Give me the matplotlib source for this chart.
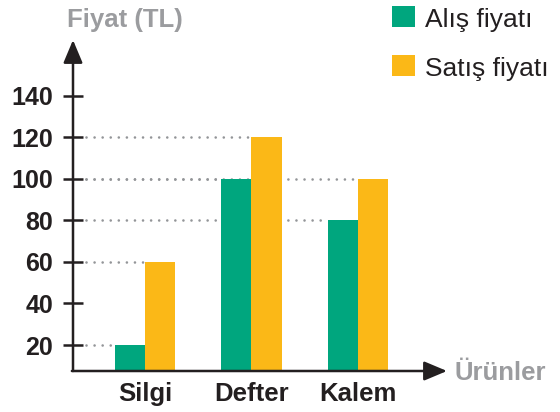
import matplotlib
matplotlib.use("Agg")
import matplotlib.pyplot as plt
from matplotlib.patches import Rectangle
import numpy as np

categories = ["Silgi", "Defter", "Kalem"]
alis = [20, 100, 80]
satis = [60, 120, 100]
series_labels = ["Alış fiyatı", "Satış fiyatı"]
yticks = [20, 40, 60, 80, 100, 120, 140]
ylabel_text = "Fiyat (TL)"
xlabel_text = "Ürünler"

GREEN = "#00A67E"
YELLOW = "#FBB817"
AXC = "#231F20"
GREY = "#9B9C9F"
DOT = "#939598"

plt.rcParams['font.family'] = ['Liberation Sans', 'DejaVu Sans']

W, H = 560, 412
fig = plt.figure(figsize=(W / 100, H / 100), dpi=100)
ax = fig.add_axes([73 / W, (H - 371) / H, (447 - 73) / W, (371 - 40) / H])

x = np.arange(len(categories))
bw = 0.282
ymin, ymax = 7.5, 166.7
xmin, xmax = -0.676, 2.836
ax.set_xlim(xmin, xmax)
ax.set_ylim(ymin, ymax)

ax.bar(x - bw / 2, alis, width=bw, color=GREEN, zorder=3, linewidth=0)
ax.bar(x + bw / 2, satis, width=bw, color=YELLOW, zorder=3, linewidth=0)

# dotted guide lines from the axis to each bar
x_start = xmin + (86 - 73) / 106.5
dot_style = dict(color=DOT, lw=1.9, linestyle=(0, (0.01, 3.05)),
                 dash_capstyle='round', zorder=2)
for xi, v in zip(x - bw, alis):
    ax.plot([x_start, xi], [v, v], **dot_style)
for xi, v in zip(x, satis):
    ax.plot([x_start, xi], [v, v], **dot_style)

for s in ax.spines.values():
    s.set_visible(False)

arrow_kw = dict(arrowstyle='-|>,head_length=1.0,head_width=0.42', lw=1.8,
                color=AXC, shrinkA=0, shrinkB=0, mutation_scale=14)
ax.annotate('', xy=(0, 1), xytext=(0, 0), xycoords='axes fraction',
            arrowprops=arrow_kw, annotation_clip=False)
ax.annotate('', xy=(1, 0), xytext=(-0.003, 0), xycoords='axes fraction',
            arrowprops=arrow_kw, annotation_clip=False)

ax.set_yticks(yticks)
ax.set_yticklabels([str(t) for t in yticks], fontsize=18, fontweight='bold', color=AXC)
ax.tick_params(axis='y', direction='inout', length=14.4, width=1.8, color=AXC, pad=7.0)
ax.set_xticks(x)
ax.set_xticklabels(categories, fontsize=18.5, fontweight='bold', color=AXC)
ax.tick_params(axis='x', length=0, pad=8)

fig.text(125 / W, (H - 27) / H, ylabel_text, ha='center', va='baseline',
         fontsize=18.5, fontweight='bold', color=GREY)
fig.text(455 / W, (H - 380) / H, xlabel_text, ha='left', va='baseline',
         fontsize=18.5, fontweight='bold', color=GREY)

# legend
for i, (lab, col) in enumerate(zip(series_labels, [GREEN, YELLOW])):
    top = 6 + 49 * i
    fig.patches.append(Rectangle((392 / W, (H - top - 21) / H), 23 / W, 21 / H,
                                 transform=fig.transFigure, color=col, linewidth=0))
    fig.text(425 / W, (H - top - 21) / H, lab, ha='left', va='baseline',
             fontsize=19, color=AXC)

fig.savefig("out.png", dpi=100)
